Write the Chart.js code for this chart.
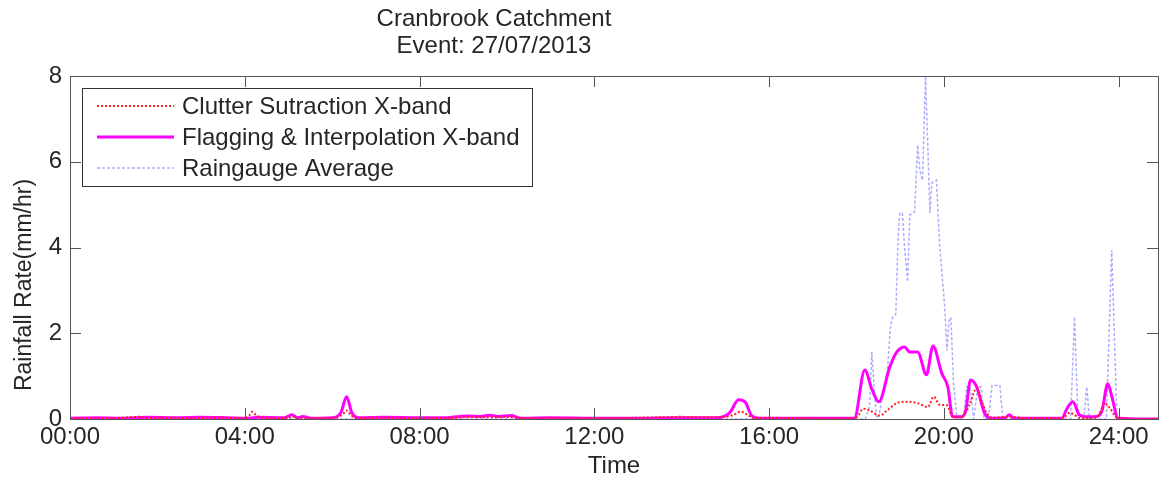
<!DOCTYPE html>
<html>
<head>
<meta charset="utf-8">
<title>Cranbrook Catchment</title>
<script src="https://cdn.jsdelivr.net/npm/chart.js@4/dist/chart.umd.min.js"></script>
<style>
  html, body { margin: 0; padding: 0; background: #fff; }
  #wrap { width: 1159px; height: 481px; position: relative; }
</style>
</head>
<body>
<div id="wrap"><canvas id="rainChart"></canvas></div>
<script>
// Rainfall rate (mm/hr) against time of day (hours since 00:00)
const clutterTimes = [0, 0.5, 1.0, 1.6, 1.7, 2.2, 2.8, 3.4, 4.0, 4.1, 4.17, 4.27, 4.4, 5.0, 5.1, 5.2, 6.1, 6.25, 6.33, 6.42, 6.55, 7.0, 8.0, 8.8, 9.2, 9.6, 10.0, 10.4, 11.0, 12.0, 13.0, 13.5, 14.0, 14.5, 15.0, 15.2, 15.35, 15.5, 15.65, 16.0, 16.5, 17.0, 17.5, 17.95, 18.05, 18.15, 18.3, 18.53, 18.7, 18.92, 19.1, 19.22, 19.4, 19.63, 19.77, 19.9, 20.07, 20.2, 20.4, 20.5, 20.6, 20.75, 20.85, 20.98, 21.1, 21.5, 22.0, 22.7, 22.8, 22.88, 22.98, 23.1, 23.4, 23.55, 23.68, 23.8, 23.98, 24.9];
const clutterRate  = [0.02, 0.01, 0.02, 0.05, 0.02, 0.03, 0.02, 0.03, 0.02, 0.08, 0.17, 0.08, 0.02, 0.03, 0.06, 0.02, 0.03, 0.12, 0.2, 0.1, 0.02, 0.03, 0.02, 0.03, 0.05, 0.04, 0.05, 0.02, 0.02, 0.01, 0.03, 0.04, 0.05, 0.04, 0.05, 0.1, 0.17, 0.1, 0.02, 0.03, 0.02, 0.01, 0.01, 0.01, 0.1, 0.24, 0.2, 0.08, 0.2, 0.37, 0.4, 0.4, 0.37, 0.28, 0.52, 0.33, 0.32, 0.05, 0.04, 0.15, 0.37, 0.72, 0.45, 0.14, 0.03, 0.05, 0.01, 0.02, 0.08, 0.15, 0.1, 0.03, 0.02, 0.1, 0.37, 0.25, 0.02, 0];

const flagTimes = [0, 0.6, 1.2, 1.8, 2.4, 3.0, 3.6, 4.1, 4.3, 4.9, 5.08, 5.2, 5.33, 5.5, 6.0, 6.2, 6.33, 6.45, 6.6, 7.2, 8.0, 8.6, 9.1, 9.4, 9.6, 9.8, 10.1, 10.3, 11.0, 12.0, 13.0, 14.0, 14.8, 15.1, 15.3, 15.45, 15.6, 15.8, 16.5, 17.0, 17.95, 18.19, 18.35, 18.51, 18.76, 18.92, 19.1, 19.22, 19.4, 19.6, 19.75, 19.95, 20.09, 20.2, 20.4, 20.5, 20.61, 20.75, 20.93, 21.05, 21.4, 21.5, 21.6, 22.7, 22.82, 22.95, 23.1, 23.3, 23.5, 23.62, 23.75, 23.85, 23.98, 24.9];
const flagRate  = [0.02, 0.03, 0.02, 0.04, 0.03, 0.04, 0.03, 0.02, 0.04, 0.03, 0.1, 0.03, 0.06, 0.02, 0.03, 0.15, 0.52, 0.15, 0.03, 0.04, 0.03, 0.03, 0.07, 0.06, 0.09, 0.06, 0.08, 0.02, 0.03, 0.02, 0.02, 0.03, 0.03, 0.15, 0.45, 0.4, 0.08, 0.02, 0.02, 0.02, 0.02, 1.14, 0.7, 0.4, 1.21, 1.56, 1.68, 1.56, 1.56, 1.03, 1.7, 1.07, 0.75, 0.05, 0.05, 0.2, 0.91, 0.75, 0.14, 0.02, 0.03, 0.1, 0.02, 0.02, 0.25, 0.4, 0.1, 0.05, 0.06, 0.2, 0.82, 0.5, 0.02, 0];

const gaugeTimes = [0, 18.2, 18.3, 18.35, 18.42, 18.46, 18.52, 18.6, 18.7, 18.78, 18.83, 18.9, 18.95, 18.99, 19.05, 19.1, 19.17, 19.22, 19.33, 19.4, 19.45, 19.51, 19.58, 19.68, 19.72, 19.83, 19.9, 20.02, 20.07, 20.12, 20.16, 20.22, 20.3, 20.45, 20.52, 20.6, 20.68, 20.78, 20.85, 20.92, 21.02, 21.1, 21.28, 21.35, 22.9, 22.99, 23.07, 23.2, 23.27, 23.33, 23.72, 23.84, 23.96, 24.9];
const gaugeRate  = [0, 0, 0.3, 1.56, 0.5, 0.02, 0.1, 0.6, 1.0, 2.2, 2.38, 2.45, 4.2, 4.8, 4.8, 4.0, 3.2, 4.76, 4.83, 6.39, 5.8, 5.57, 8.0, 4.8, 5.5, 5.57, 4.1, 2.6, 1.6, 2.35, 2.35, 0.84, 0, 0, 0.75, 0.75, 0, 0.75, 0.75, 0, 0, 0.78, 0.78, 0, 0, 2.38, 0, 0, 0.75, 0, 0, 3.94, 0, 0];

const seriesNames = ['Clutter Sutraction X-band', 'Flagging & Interpolation X-band', 'Raingauge Average'];
const xTickHours = [0, 4, 8, 12, 16, 20, 24];
const yTickValues = [0, 2, 4, 6, 8];
const titleLines = ['Cranbrook Catchment', 'Event: 27/07/2013'];
const yAxisLabel = 'Rainfall Rate(mm/hr)';

const FONT = '"Liberation Sans", Arial, sans-serif';
const INK = '#262626';

function pairs(ts, vs) {
    return ts.map((t, i) => ({ x: t, y: vs[i] }));
}

function hhmm(h) {
    return String(h).padStart(2, '0') + ':00';
}

// Box frame with inward ticks on all four sides, plus title, y label and legend box
const matlabFrame = {
    id: 'matlabFrame',
    afterDatasetsDraw(chart) {
        const { ctx, chartArea: a, scales } = chart;
        const tick = 11;
        ctx.save();
        ctx.strokeStyle = '#555';
        ctx.lineWidth = 1;
        ctx.beginPath();
        xTickHours.forEach(h => {
            const x = Math.round(scales.x.getPixelForValue(h)) + 0.5;
            ctx.moveTo(x, a.bottom); ctx.lineTo(x, a.bottom - tick);
            ctx.moveTo(x, a.top); ctx.lineTo(x, a.top + tick);
        });
        yTickValues.forEach(v => {
            const y = Math.round(scales.y.getPixelForValue(v)) + 0.5;
            ctx.moveTo(a.left, y); ctx.lineTo(a.left + tick, y);
            ctx.moveTo(a.right, y); ctx.lineTo(a.right - tick, y);
        });
        ctx.stroke();
        ctx.strokeRect(Math.round(a.left) + 0.5, Math.round(a.top) + 0.5,
            Math.round(a.right - a.left), Math.round(a.bottom - a.top));

        // legend
        const lx = a.left + 12, ly = a.top + 12, lw = 450, lh = 98;
        ctx.fillStyle = '#fff';
        ctx.fillRect(lx, ly, lw, lh);
        ctx.strokeStyle = '#333';
        ctx.strokeRect(lx + 0.5, ly + 0.5, lw, lh);
        ctx.font = '24px ' + FONT;
        ctx.textBaseline = 'middle';
        chart.data.datasets.forEach((ds, i) => {
            const y = ly + 18 + i * 31;
            ctx.save();
            ctx.strokeStyle = ds.borderColor;
            ctx.lineWidth = ds.borderWidth;
            ctx.setLineDash(ds.borderDash || []);
            ctx.beginPath();
            ctx.moveTo(lx + 15, y); ctx.lineTo(lx + 92, y);
            ctx.stroke();
            ctx.restore();
            ctx.fillStyle = INK;
            ctx.textAlign = 'left';
            ctx.fillText(ds.label, lx + 100, y + 1);
        });

        // two-line title
        ctx.fillStyle = INK;
        ctx.textAlign = 'center';
        ctx.font = '24px ' + FONT;
        ctx.fillText(titleLines[0], 494, 19);
        ctx.fillText(titleLines[1], 494, 46);

        // rotated y axis label
        ctx.save();
        ctx.translate(25, 285);
        ctx.rotate(-Math.PI / 2);
        ctx.font = '23px ' + FONT;
        ctx.fillText(yAxisLabel, 0, 0);
        ctx.restore();
        ctx.restore();
    }
};

new Chart(document.getElementById('rainChart'), {
    type: 'line',
    data: {
        datasets: [
            {
                label: seriesNames[0],
                data: pairs(clutterTimes, clutterRate),
                borderColor: '#ff2020',
                borderWidth: 2,
                borderDash: [2, 2],
                cubicInterpolationMode: 'monotone',
                pointRadius: 0,
                order: 0
            },
            {
                label: seriesNames[1],
                data: pairs(flagTimes, flagRate),
                borderColor: '#ff00ff',
                borderWidth: 3,
                cubicInterpolationMode: 'monotone',
                pointRadius: 0,
                order: 1
            },
            {
                label: seriesNames[2],
                data: pairs(gaugeTimes, gaugeRate),
                borderColor: 'rgba(90,90,255,0.5)',
                borderWidth: 1.5,
                borderDash: [3, 2],
                pointRadius: 0,
                order: 2
            }
        ]
    },
    options: {
        responsive: true,
        maintainAspectRatio: false,
        animation: false,
        layout: { padding: { top: 76, right: 1, left: 0, bottom: 0 } },
        scales: {
            x: {
                type: 'linear',
                min: 0,
                max: 24.9,
                grid: { display: false, drawTicks: false },
                border: { display: false },
                afterBuildTicks: s => { s.ticks = xTickHours.map(v => ({ value: v })); },
                afterFit: s => { s.height = 62; },
                ticks: {
                    maxRotation: 0,
                    autoSkip: false,
                    padding: 4,
                    color: INK,
                    font: { family: FONT, size: 24 },
                    callback: v => hhmm(v)
                },
                title: {
                    display: true,
                    text: 'Time',
                    color: INK,
                    padding: { top: 3, bottom: 0 },
                    font: { family: FONT, size: 24 }
                }
            },
            y: {
                min: 0,
                max: 8,
                grid: { display: false, drawTicks: false },
                border: { display: false },
                afterBuildTicks: s => { s.ticks = yTickValues.map(v => ({ value: v })); },
                afterFit: s => { s.width = 70; },
                ticks: {
                    padding: 8,
                    color: INK,
                    font: { family: FONT, size: 24 }
                }
            }
        },
        plugins: {
            legend: { display: false },
            title: { display: false },
            tooltip: { enabled: false }
        }
    },
    plugins: [matlabFrame]
});
</script>
</body>
</html>
